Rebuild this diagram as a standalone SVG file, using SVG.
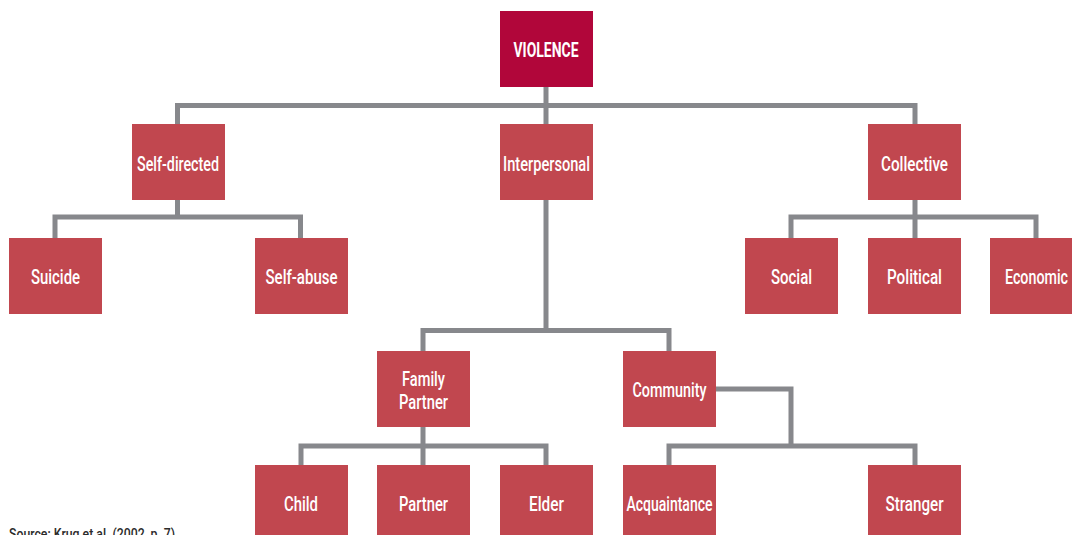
<svg xmlns="http://www.w3.org/2000/svg" width="1072" height="535" viewBox="0 0 1072 535">
<style>
.n{fill:#c1474f}
.root{fill:#b1063a}
.t{fill:#fff;font-family:Roboto,"DejaVu Sans",sans-serif;font-size:21px;font-weight:500;text-anchor:middle;dominant-baseline:central}
.b{font-weight:bold}
.c{fill:none;stroke:#87888c;stroke-width:5}
.src{fill:#2b2b2b;font-family:Roboto,"DejaVu Sans",sans-serif;font-size:14px;font-weight:500}
</style>
<rect width="1072" height="535" fill="#fff"/>
<g id="connectors">
<path class="c" d="M546 87V105.5M177.5 124V105.5H915V124M546 105.5V124"/>
<path class="c" d="M177.5 200V217M55 238V217H300.5V238"/>
<path class="c" d="M915 200V238M791 238V217H1036V238"/>
<path class="c" d="M546 200V330.5M423 351V330.5H669V351"/>
<path class="c" d="M423 427V465M301 465V446H546V465"/>
<path class="c" d="M716 389H791V446M669 465V446H915V465"/>
</g>
<g id="violence"><rect class="root" x="500" y="11" width="93" height="76"/><text class="t b" x="546" y="50" textLength="65" lengthAdjust="spacingAndGlyphs">VIOLENCE</text></g>
<g id="self-directed"><rect class="n" x="132" y="124" width="93" height="76"/><text class="t" x="178" y="164" textLength="82" lengthAdjust="spacingAndGlyphs">Self-directed</text></g>
<g id="interpersonal"><rect class="n" x="500" y="124" width="93" height="76"/><text class="t" x="546.5" y="164" textLength="87" lengthAdjust="spacingAndGlyphs">Interpersonal</text></g>
<g id="collective"><rect class="n" x="868" y="124" width="93" height="76"/><text class="t" x="914.5" y="164" textLength="67" lengthAdjust="spacingAndGlyphs">Collective</text></g>
<g id="suicide"><rect class="n" x="9" y="238" width="93" height="76"/><text class="t" x="55.5" y="277" textLength="49" lengthAdjust="spacingAndGlyphs">Suicide</text></g>
<g id="self-abuse"><rect class="n" x="255" y="238" width="93" height="76"/><text class="t" x="301.5" y="277" textLength="72" lengthAdjust="spacingAndGlyphs">Self-abuse</text></g>
<g id="social"><rect class="n" x="745" y="238" width="93" height="76"/><text class="t" x="791.5" y="277" textLength="41" lengthAdjust="spacingAndGlyphs">Social</text></g>
<g id="political"><rect class="n" x="868" y="238" width="93" height="76"/><text class="t" x="914.5" y="277" textLength="55" lengthAdjust="spacingAndGlyphs">Political</text></g>
<g id="economic"><rect class="n" x="990" y="238" width="93" height="76"/><text class="t" x="1036.5" y="277" textLength="63" lengthAdjust="spacingAndGlyphs">Economic</text></g>
<g id="family-partner"><rect class="n" x="377" y="351" width="93" height="76"/><text class="t" x="423.5" y="379" textLength="43" lengthAdjust="spacingAndGlyphs">Family</text><text class="t" x="423.5" y="402" textLength="49" lengthAdjust="spacingAndGlyphs">Partner</text></g>
<g id="community"><rect class="n" x="623" y="351" width="93" height="76"/><text class="t" x="669.5" y="390" textLength="74" lengthAdjust="spacingAndGlyphs">Community</text></g>
<g id="child"><rect class="n" x="255" y="465" width="93" height="76"/><text class="t" x="301" y="504" textLength="34" lengthAdjust="spacingAndGlyphs">Child</text></g>
<g id="partner"><rect class="n" x="377" y="465" width="93" height="76"/><text class="t" x="423.5" y="504" textLength="49" lengthAdjust="spacingAndGlyphs">Partner</text></g>
<g id="elder"><rect class="n" x="500" y="465" width="93" height="76"/><text class="t" x="546.5" y="504" textLength="35" lengthAdjust="spacingAndGlyphs">Elder</text></g>
<g id="acquaintance"><rect class="n" x="623" y="465" width="93" height="76"/><text class="t" x="669.5" y="504" textLength="86" lengthAdjust="spacingAndGlyphs">Acquaintance</text></g>
<g id="stranger"><rect class="n" x="868" y="465" width="93" height="76"/><text class="t" x="914.5" y="504" textLength="58" lengthAdjust="spacingAndGlyphs">Stranger</text></g>
<text class="src" x="9" y="539" textLength="166" lengthAdjust="spacingAndGlyphs">Source: Krug et al. (2002, p. 7)</text>
</svg>
